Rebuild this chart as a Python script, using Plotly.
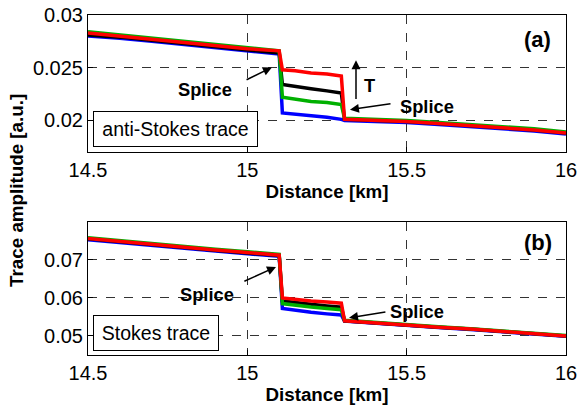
import plotly.graph_objects as go

# ---- data ----
distance_km = [14.5, 14.6, 14.7, 14.8, 14.9, 15.0, 15.1, 15.11, 15.15, 15.2, 15.25, 15.295,
               15.305, 15.4, 15.5, 15.6, 15.7, 15.8, 15.9, 16.0]

as_blue = [0.0280, 0.0278, 0.0275, 0.0272, 0.0269, 0.0266, 0.0263, 0.0207, 0.0206, 0.0204, 0.0203, 0.0201,
           0.0200, 0.0199, 0.0198, 0.0196, 0.0194, 0.0192, 0.0190, 0.0187]
as_black = [0.0281, 0.0279, 0.0276, 0.0273, 0.0270, 0.0267, 0.0264, 0.0234, 0.0232, 0.0230, 0.0228, 0.0226,
            0.0201, 0.0200, 0.0199, 0.0197, 0.0195, 0.0193, 0.0191, 0.0188]
as_green = [0.0284, 0.0281, 0.0278, 0.0275, 0.0272, 0.0269, 0.0266, 0.0222, 0.0220, 0.0218, 0.0217, 0.0215,
            0.0202, 0.0201, 0.0200, 0.0198, 0.0196, 0.0194, 0.0192, 0.0189]
as_red = [0.0283, 0.0280, 0.0277, 0.0274, 0.0271, 0.0268, 0.0266, 0.0248, 0.0247, 0.0245, 0.0244, 0.0242,
          0.0201, 0.0200, 0.0199, 0.0197, 0.0195, 0.0193, 0.0191, 0.0188]

s_blue = [0.0753, 0.0745, 0.0737, 0.0730, 0.0723, 0.0716, 0.0709, 0.0572, 0.0567, 0.0562, 0.0558, 0.0555,
          0.0539, 0.0533, 0.0528, 0.0522, 0.0517, 0.0511, 0.0505, 0.0499]
s_black = [0.0755, 0.0747, 0.0739, 0.0732, 0.0725, 0.0718, 0.0711, 0.0592, 0.0587, 0.0583, 0.0579, 0.0576,
           0.0540, 0.0534, 0.0529, 0.0523, 0.0518, 0.0512, 0.0506, 0.0500]
s_green = [0.0758, 0.0750, 0.0742, 0.0735, 0.0728, 0.0721, 0.0714, 0.0585, 0.0580, 0.0576, 0.0572, 0.0569,
           0.0541, 0.0535, 0.0530, 0.0524, 0.0519, 0.0513, 0.0507, 0.0501]
s_red = [0.0756, 0.0748, 0.0740, 0.0733, 0.0726, 0.0719, 0.0712, 0.0600, 0.0596, 0.0592, 0.0589, 0.0586,
         0.0540, 0.0534, 0.0529, 0.0523, 0.0518, 0.0512, 0.0506, 0.0500]

x_ticks = [14.5, 15, 15.5, 16]
x_ticklabels = ["14.5", "15", "15.5", "16"]
top_yticks = [0.02, 0.025, 0.03]
top_yticklabels = ["0.02", "0.025", "0.03"]
bot_yticks = [0.05, 0.06, 0.07]
bot_yticklabels = ["0.05", "0.06", "0.07"]

colors = {"blue": "#0000ff", "black": "#000000", "green": "#00b000", "red": "#ff0000"}
FONT = "Liberation Sans, Arial, Helvetica, sans-serif"

fig = go.Figure()
for name, ys in [("blue", as_blue), ("black", as_black), ("green", as_green), ("red", as_red)]:
    fig.add_trace(go.Scatter(x=distance_km, y=ys, mode="lines", line=dict(color=colors[name], width=3.5),
                             xaxis="x", yaxis="y", showlegend=False))
for name, ys in [("blue", s_blue), ("black", s_black), ("green", s_green), ("red", s_red)]:
    fig.add_trace(go.Scatter(x=distance_km, y=ys, mode="lines", line=dict(color=colors[name], width=3.5),
                             xaxis="x2", yaxis="y2", showlegend=False))

axis_common = dict(showline=True, linecolor="black", linewidth=1, mirror=True,
                   ticks="inside", ticklen=5, tickcolor="black", automargin=False,
                   ticklabeloverflow="allow",
                   showgrid=True, gridcolor="#333333", griddash="dash", gridwidth=1,
                   zeroline=False, tickfont=dict(size=20, color="black", family=FONT))

title_font = dict(size=18.8, color="black", family=FONT)

fig.update_layout(
    width=577, height=409,
    margin=dict(l=88, r=11, t=15, b=54),
    paper_bgcolor="white", plot_bgcolor="white",
    xaxis=dict(domain=[0, 1], anchor="y", range=[14.5, 16], tickvals=x_ticks, ticktext=x_ticklabels,
               title=dict(text="<b>Distance [km]</b>", font=title_font, standoff=4), **axis_common),
    yaxis=dict(domain=[0.597, 1], anchor="x", range=[0.017, 0.03], tickvals=top_yticks,
               ticktext=top_yticklabels, **axis_common),
    xaxis2=dict(domain=[0, 1], anchor="y2", range=[14.5, 16], tickvals=x_ticks, ticktext=x_ticklabels,
                title=dict(text="<b>Distance [km]</b>", font=title_font, standoff=4), **axis_common),
    yaxis2=dict(domain=[0, 0.392], anchor="x2", range=[0.045, 0.08], tickvals=bot_yticks,
                ticktext=bot_yticklabels, **axis_common),
)

ann = []

def arrow(xh, yh, xt, yt, xr, yr):
    return dict(x=xh, y=yh, ax=xt, ay=yt, xref=xr, yref=yr, axref=xr, ayref=yr, text="",
                showarrow=True, arrowhead=2, arrowsize=1.2, arrowwidth=1.5, arrowcolor="black")

def label(x, y, t, xr, yr, size=18.3):
    return dict(x=x, y=y, xref=xr, yref=yr, text="<b>%s</b>" % t, showarrow=False,
                xanchor="center", yanchor="middle",
                font=dict(size=size, color="black", family=FONT))

# panel (a)
ann.append(label(14.867, 0.02293, "Splice", "x", "y"))
ann.append(arrow(15.077, 0.02503, 14.993, 0.02379, "x", "y"))
ann.append(label(15.382, 0.02331, "T", "x", "y"))
ann.append(arrow(15.341, 0.02570, 15.341, 0.02188, "x", "y"))
ann.append(label(15.564, 0.02131, "Splice", "x", "y"))
ann.append(arrow(15.322, 0.02102, 15.454, 0.02160, "x", "y"))
ann.append(label(15.912, 0.02765, "(a)", "x", "y", 22))
ann.append(dict(x=14.775, y=0.01916, xref="x", yref="y", text="anti-Stokes trace", showarrow=False,
                xanchor="center", yanchor="middle",
                font=dict(size=19.5, color="black", family=FONT), bordercolor="black", borderwidth=1,
                borderpad=4, bgcolor="white", width=155, height=26))
# panel (b)
ann.append(label(14.873, 0.06079, "Splice", "x2", "y2"))
ann.append(arrow(15.090, 0.06813, 14.986, 0.06419, "x2", "y2"))
ann.append(label(15.532, 0.05633, "Splice", "x2", "y2"))
ann.append(arrow(15.319, 0.05476, 15.438, 0.05633, "x2", "y2"))
ann.append(label(15.912, 0.07442, "(b)", "x2", "y2", 22))
ann.append(dict(x=14.713, y=0.0508, xref="x2", yref="y2", text="Stokes trace", showarrow=False,
                xanchor="center", yanchor="middle",
                font=dict(size=19.5, color="black", family=FONT), bordercolor="black", borderwidth=1,
                borderpad=4, bgcolor="white", width=116, height=26))
# shared y title
ann.append(dict(x=-0.151, y=0.485, xref="paper", yref="paper", text="<b>Trace amplitude [a.u.]</b>",
                xanchor="center", yanchor="middle",
                textangle=-90, showarrow=False, font=title_font))

fig.update_layout(annotations=ann)
fig.write_html("out.html")
